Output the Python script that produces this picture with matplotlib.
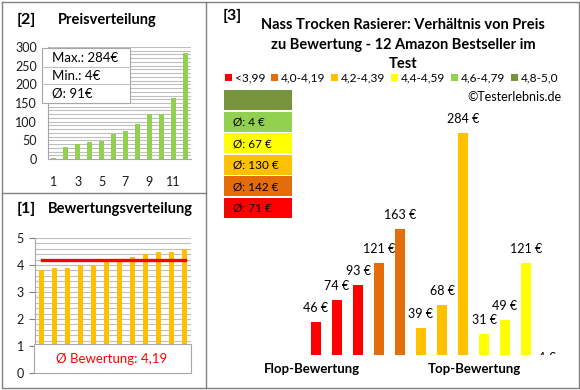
import numpy as np
from matplotlib import pyplot as plt
from matplotlib.patches import Rectangle
from matplotlib.lines import Line2D
from matplotlib.transforms import Affine2D

plt.rcParams['font.family'] = ['Lato', 'DejaVu Sans']

# data
prices = [46, 74, 93, 121, 163, 39, 68, 284, 31, 49, 121, 4]
ratings = [3.8, 3.9, 3.9, 4.0, 4.0, 4.2, 4.2, 4.3, 4.4, 4.5, 4.5, 4.6]
class_labels = ['<3,99', '4,0-4,19', '4,2-4,39', '4,4-4,59', '4,6-4,79', '4,8-5,0']
class_edges = [4.0, 4.2, 4.4, 4.6, 4.8]
class_colors = ['#FF0000', '#E46C0A', '#FFC000', '#FFFF00', '#92D050', '#77933C']

W, H = 580, 390
fig = plt.figure(figsize=(W/100, H/100), dpi=100)
fig.patch.set_facecolor('white')
# pixel coords, y going down
px = Affine2D().scale(1/W, -1/H).translate(0, 1) + fig.transFigure

def ax_at(left, top, right, bottom):
    return fig.add_axes([left/W, 1-bottom/H, (right-left)/W, (bottom-top)/H])

def rect(x0, y0, x1, y1, fc='white', ec='#A6A6A6', lw=0.8, z=5):
    fig.add_artist(Rectangle((x0, y0), x1-x0, y1-y0, transform=px,
                             facecolor=fc, edgecolor=ec, lw=lw, zorder=z))

def line(xs, ys, color='#808080', lw=1.0, z=6):
    fig.add_artist(Line2D(xs, ys, transform=px, color=color, lw=lw, zorder=z))

def txt(x, y, s, **kw):
    kw.setdefault('va', 'center')
    kw.setdefault('zorder', 7)
    fig.text(x, y, s, transform=px, **kw)

def cls(r):
    return int(np.searchsorted(class_edges, r, side='right'))

# panel borders
line([1.5, 578.5, 578.5, 1.5, 1.5], [1.5, 1.5, 387.5, 387.5, 1.5])
line([205.5, 205.5], [1.5, 387.5])
line([1.5, 205.5], [192.5, 192.5])

# ---- [2] Preisverteilung
srt = sorted(prices)
n = len(srt)
ax1 = ax_at(48, 47, 191, 159)
ax1.bar(np.arange(1, n+1), srt, width=0.42, color='#92D050', zorder=3)
ax1.set_xlim(0.5, n+0.5)
ax1.set_ylim(0, 300)
for v in range(10, 301, 10):
    ax1.axhline(v, color='#BFBFBF', lw=0.8, zorder=1)
ax1.set_yticks(range(0, 301, 50))
ax1.set_xticks(range(1, n+1, 2))
ax1.tick_params(length=0, labelsize=9, colors='#1a1a1a')
ax1.tick_params(axis='y', pad=8)
ax1.tick_params(axis='x', pad=12)
for s in ['top', 'right']:
    ax1.spines[s].set_visible(False)
for s in ['left', 'bottom']:
    ax1.spines[s].set_color('#A6A6A6')
txt(17, 20, '[2]', fontsize=11.5, fontweight='bold')
txt(58, 20, 'Preisverteilung', fontsize=10.5, fontweight='bold')
rect(42, 48, 130, 103)
line([42, 130], [67, 67], color='#BFBFBF', lw=0.8)
line([42, 130], [84, 84], color='#BFBFBF', lw=0.8)
txt(52, 57.5, 'Max.: %d€' % max(prices), fontsize=9.5)
txt(52, 76, 'Min.: %d€' % min(prices), fontsize=9.5)
txt(52, 94, 'Ø: %d€' % round(np.mean(prices)), fontsize=9.5)

# ---- [1] Bewertungsverteilung
srt_r = sorted(ratings)
ax2 = ax_at(35, 238, 191, 373)
ax2.bar(np.arange(1, n+1), srt_r, width=0.36, color='#FFC000', zorder=3)
ax2.plot([1, n], [np.mean(ratings)]*2, color='#FF0000', lw=2.4, zorder=4)
ax2.set_xlim(0.5, n+0.5)
ax2.set_ylim(0, 5)
for v in np.arange(1.0, 5.01, 0.2):
    ax2.axhline(v, color='#BFBFBF', lw=0.8, zorder=1)
ax2.set_yticks(range(0, 6))
ax2.set_xticks([])
ax2.tick_params(axis='y', length=4, pad=4, labelsize=9, colors='#1a1a1a',
                color='#808080')
for s in ['top', 'right', 'bottom']:
    ax2.spines[s].set_visible(False)
ax2.spines['left'].set_color('#A6A6A6')
txt(17, 209, '[1]', fontsize=11.5, fontweight='bold')
txt(48, 209, 'Bewertungsverteilung', fontsize=10.5, fontweight='bold')
rect(34, 344, 191, 373)
txt(112, 359, 'Ø Bewertung: %s' % ('%.2f' % np.mean(ratings)).replace('.', ','),
    fontsize=9.5, color='#FF0000', ha='center')

# ---- [3] price vs rating
ax3 = ax_at(305.5, 100, 557.5, 355)
bar_cols = [class_colors[cls(r)] for r in ratings]
x3 = np.arange(len(prices))
ax3.bar(x3, prices, width=0.43, color=bar_cols, zorder=3)
ax3.set_xlim(-0.5, len(prices)-0.5)
ax3.set_ylim(4.5, 326)
ax3.axis('off')
for xi, p in zip(x3, prices):
    if p < 10:
        # label sits below the axis floor, only its top peeks out
        ax3.text(xi, 0.5, '%d €' % p, ha='center', va='center', fontsize=9,
                 clip_on=True)
    else:
        ax3.text(xi, p + 10, '%d €' % p, ha='center', va='bottom', fontsize=9)

txt(223, 16, '[3]', fontsize=11.5, fontweight='bold')
title = ['Nass Trocken Rasierer: Verhältnis von Preis',
         'zu Bewertung - 12 Amazon Bestseller im', 'Test']
for i, t in enumerate(title):
    txt(403, 25 + 19.5*i, t, fontsize=10.5, fontweight='bold', ha='center')

leg_x = [225, 271, 331, 391, 451, 511]
for lx, lab, c in zip(leg_x, class_labels, class_colors):
    rect(lx, 73.5, lx+7, 80.5, fc=c, ec='none', lw=0)
    txt(lx+10, 77.5, lab, fontsize=8.6)
txt(562, 97, '©Testerlebnis.de', fontsize=9, ha='right')

# group averages, best class on top
for k in range(len(class_colors)):
    ci = len(class_colors) - 1 - k
    top = 90 + 21.6*k
    rect(224, top, 292, top+20, fc=class_colors[ci], ec='none', lw=0)
    grp = [p for p, r in zip(prices, ratings) if cls(r) == ci]
    if grp:
        txt(233, top+10.5, 'Ø: %d €' % round(np.mean(grp)), fontsize=8.5)

txt(312, 369, 'Flop-Bewertung', fontsize=9.5, fontweight='bold', ha='center')
txt(474, 369, 'Top-Bewertung', fontsize=9.5, fontweight='bold', ha='center')

fig.savefig('out.png', dpi=100)
